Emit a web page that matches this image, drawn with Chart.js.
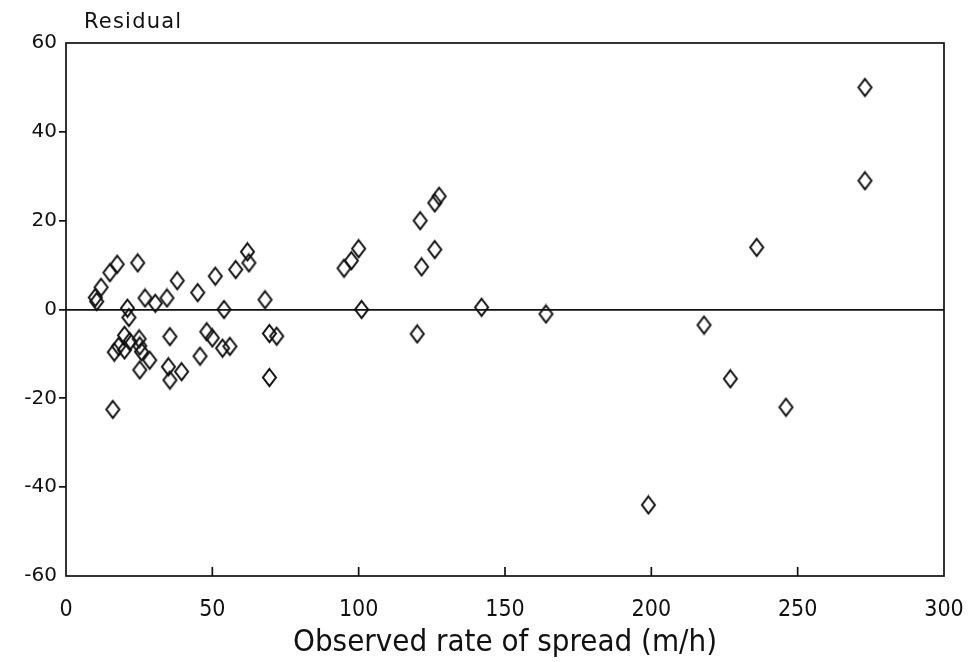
<!DOCTYPE html>
<html>
<head>
<meta charset="utf-8">
<script src="https://cdn.jsdelivr.net/npm/chart.js@4.4.1/dist/chart.umd.min.js"></script>
<style>
  html, body { margin: 0; padding: 0; background: #fff; }
  #wrap { width: 970px; height: 662px; }
</style>
</head>
<body>
<div id="wrap"><canvas id="c" width="970" height="662"></canvas></div>
<script>
// Observed rate of spread (m/h)
const observedRate = [
  10, 10.5, 12, 15, 17.5, 24.5,
  16,
  16.5, 18, 20, 20, 21.8,
  21, 21.5,
  25, 25.2, 25.8,
  27, 30.5, 34.5, 38,
  28.6, 25.2,
  35.5, 35, 35.5, 39.5,
  45, 45.8, 48.1, 50,
  51, 54, 53.5, 56,
  58, 62, 62.5,
  68, 69.5, 72, 69.5,
  95, 97.5, 100, 101,
  120, 121.5, 121, 126, 126, 127.5,
  142, 164,
  199, 218, 227, 236, 246, 273, 273
];
// Residual
const residual = [
  2.7, 1.8, 5, 8.3, 10.2, 10.5,
  -22.5,
  -9.6, -8.3, -5.8, -9.1, -7.2,
  0.3, -1.8,
  -6.6, -8.2, -9.5,
  2.6, 1.4, 2.6, 6.5,
  -11.4, -13.6,
  -6.1, -12.9, -15.9, -14,
  3.8, -10.5, -5, -6.4,
  7.5, 0, -8.7, -8.3,
  9, 13, 10.5,
  2.2, -5.4, -6, -15.3,
  9.3, 11, 13.7, 0,
  -5.5, 9.6, 20, 13.5, 24, 25.5,
  0.5, -1,
  -44, -3.5, -15.6, 14, -22, 50, 29
];
const xTicks = [0, 50, 100, 150, 200, 250, 300];
const yTicks = [-60, -40, -20, 0, 20, 40, 60];
const yAxisTitle = 'Residual';
const xAxisTitle = 'Observed rate of spread (m/h)';

const points = observedRate.map((x, i) => ({ x: x, y: residual[i] }));

// tall diamond marker
function diamond(w, h, lw) {
  const cv = document.createElement('canvas');
  cv.width = w; cv.height = h;
  const g = cv.getContext('2d');
  g.strokeStyle = '#111';
  g.lineWidth = lw;
  g.lineJoin = 'miter';
  g.beginPath();
  g.moveTo(w / 2, lw);
  g.lineTo(w - lw, h / 2);
  g.lineTo(w / 2, h - lw);
  g.lineTo(lw, h / 2);
  g.closePath();
  g.stroke();
  return cv;
}
const marker = diamond(17, 21, 2);

const framePlugin = {
  id: 'frame',
  afterDraw(chart) {
    const { ctx, chartArea: a, scales } = chart;
    ctx.save();
    ctx.strokeStyle = '#111';
    ctx.lineWidth = 1.7;
    ctx.strokeRect(a.left, a.top, a.right - a.left, a.bottom - a.top);
    // inward ticks on x axis
    const xs = scales.x;
    ctx.beginPath();
    xs.ticks.forEach(t => {
      if (t.value === xs.min || t.value === xs.max) return;
      const px = xs.getPixelForValue(t.value);
      ctx.moveTo(px, a.bottom);
      ctx.lineTo(px, a.bottom - 9);
    });
    ctx.stroke();
    // y axis title above the axis
    ctx.fillStyle = '#111';
    ctx.font = '21px "DejaVu Sans", sans-serif';
    try { ctx.letterSpacing = '1.2px'; } catch (e) {}
    ctx.textAlign = 'left';
    ctx.textBaseline = 'alphabetic';
    ctx.fillText(yAxisTitle, a.left + 18, a.top - 15);
    ctx.restore();
  }
};

new Chart(document.getElementById('c'), {
  type: 'scatter',
  data: {
    datasets: [{
      data: points,
      pointStyle: marker,
      pointRadius: 8,
      pointHoverRadius: 8,
      showLine: false
    }]
  },
  options: {
    responsive: false,
    devicePixelRatio: 1,
    animation: false,
    events: [],
    layout: { padding: { top: 43, right: 26, left: 0, bottom: 0 } },
    plugins: { legend: { display: false }, tooltip: { enabled: false } },
    scales: {
      x: {
        type: 'linear',
        min: 0, max: 300,
        afterBuildTicks(s) { s.ticks = xTicks.map(v => ({ value: v })); },
        afterFit(s) { s.height = 86; s.paddingLeft = 0; s.paddingRight = 0; },
        border: { display: false },
        grid: { drawOnChartArea: false, drawTicks: false },
        ticks: {
          color: '#111',
          padding: 20,
          maxRotation: 0,
          font: { family: '"DejaVu Sans Condensed", "DejaVu Sans", sans-serif', size: 23 }
        },
        title: {
          display: true,
          text: xAxisTitle,
          color: '#111',
          padding: { top: 0, bottom: 0 },
          font: { family: '"DejaVu Sans Condensed", "DejaVu Sans", sans-serif', size: 31 }
        }
      },
      y: {
        type: 'linear',
        min: -60, max: 60,
        afterBuildTicks(s) { s.ticks = yTicks.map(v => ({ value: v })); },
        afterFit(s) { s.width = 66; s.paddingTop = 0; s.paddingBottom = 0; },
        border: { display: false },
        grid: {
          color: c => (c.tick && c.tick.value === 0) ? '#111' : 'rgba(0,0,0,0)',
          lineWidth: 1.7,
          tickLength: 7,
          tickColor: c => (c.tick && Math.abs(c.tick.value) === 60) ? 'rgba(0,0,0,0)' : '#111',
          tickWidth: 1.7
        },
        ticks: {
          color: '#111',
          padding: 2,
          font: { family: '"DejaVu Sans", sans-serif', size: 20 }
        }
      }
    }
  },
  plugins: [framePlugin]
});
</script>
</body>
</html>
